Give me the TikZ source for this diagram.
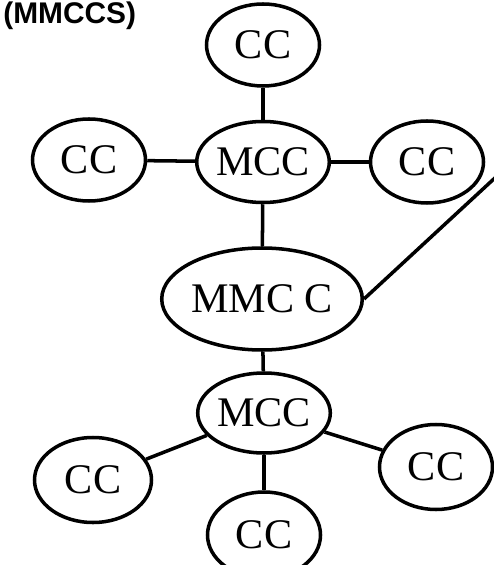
\documentclass[tikz,border=0pt]{standalone}
\usepackage{fontspec}
\setmainfont{Liberation Serif}
\newfontfamily\titlefont{Liberation Sans}
\usetikzlibrary{shapes.geometric}
\pgfdeclarelayer{edgelayer}
\pgfdeclarelayer{nodelayer}
\pgfsetlayers{edgelayer,nodelayer,main}
\tikzstyle{none}=[inner sep=0pt]
\tikzstyle{cc}=[ellipse,fill=white,draw=black,line width=2pt,inner sep=0pt,minimum width=2.26cm,minimum height=1.64cm,font=\fontsize{24}{28}\selectfont]
\tikzstyle{mcc}=[style=cc,minimum width=2.4cm,minimum height=1.62cm]
\tikzstyle{mmcc}=[style=cc,minimum width=4cm,minimum height=2.04cm]
\tikzstyle{link}=[draw=black,line width=2pt]

\begin{document}
\begin{tikzpicture}
	\useasboundingbox (0, 0) rectangle (9.86, -11.3);
	\clip (0, 0) rectangle (9.86, -11.3);
	\begin{pgfonlayer}{nodelayer}
		\node [style=none, anchor=base west, font=\titlefont\bfseries\fontsize{17}{20}\selectfont] (t) at (0.06, -0.47) {(MMCCS)};
		\node [style=cc] (0) at (5.26, -0.9) {CC};
		\node [style=mcc] (1) at (5.26, -3.24) {MCC};
		\node [style=cc] (2) at (1.78, -3.2) {CC};
		\node [style=cc] (3) at (8.54, -3.24) {CC};
		\node [style=mmcc] (4) at (5.24, -5.98) {MMC C};
		\node [style=mcc, minimum width=2.56cm, minimum height=1.6cm] (5) at (5.28, -8.26) {MCC};
		\node [style=cc, minimum width=2.34cm, minimum height=1.7cm] (6) at (1.86, -9.6) {CC};
		\node [style=cc, minimum height=1.72cm] (7) at (5.28, -10.7) {CC};
		\node [style=cc, minimum height=1.7cm] (8) at (8.72, -9.34) {CC};
		\coordinate (9) at (10.2, -3.28);
	\end{pgfonlayer}
	\begin{pgfonlayer}{edgelayer}
		\draw [style=link] (0) to (1);
		\draw [style=link] (2) to (1);
		\draw [style=link] (1) to (3);
		\draw [style=link] (1) to (4);
		\draw [style=link] (4.east) to (9);
		\draw [style=link] (4) to (5);
		\draw [style=link] (5) to (6);
		\draw [style=link] (5) to (7);
		\draw [style=link] (5) to (8);
	\end{pgfonlayer}
\end{tikzpicture}
\end{document}
